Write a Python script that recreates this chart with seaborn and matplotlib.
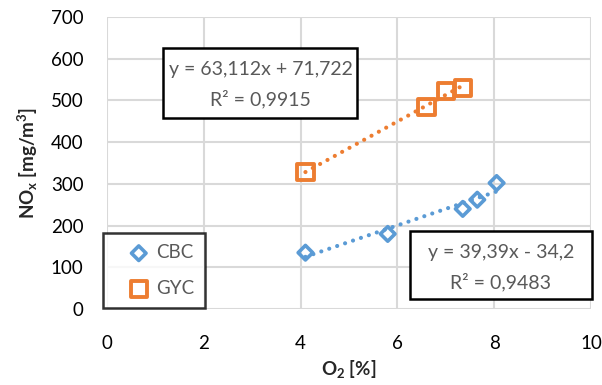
import numpy as np
import pandas as pd
import matplotlib
matplotlib.use("Agg")
import matplotlib.pyplot as plt
from matplotlib.patches import Rectangle
import seaborn as sns

# ---- data ----
cbc_o2 = [4.1, 5.8, 7.35, 7.65, 8.05]
cbc_nox = [135, 180, 240, 262, 302]
gyc_o2 = [4.1, 6.6, 7.0, 7.35]
gyc_nox = [328, 485, 522, 530]
series_names = ["CBC", "GYC"]
eq_cbc = "y = 39,39x - 34,2\nR² = 0,9483"
eq_gyc = "y = 63,112x + 71,722\nR² = 0,9915"
x_ticks = [0, 2, 4, 6, 8, 10]
y_ticks = [0, 100, 200, 300, 400, 500, 600, 700]

blue = "#5B9BD5"
orange = "#ED7D31"
txt_gray = "#595959"

sns.set_theme(style="white")
plt.rcParams["font.family"] = ["Lato", "DejaVu Sans"]
plt.rcParams["mathtext.fontset"] = "custom"
plt.rcParams["mathtext.rm"] = "Lato"
plt.rcParams["mathtext.bf"] = "Lato:bold"
plt.rcParams["mathtext.default"] = "bf"

df_cbc = pd.DataFrame({"o2": cbc_o2, "nox": cbc_nox})
df_gyc = pd.DataFrame({"o2": gyc_o2, "nox": gyc_nox})

fig = plt.figure(figsize=(6.02, 3.85), dpi=100)
ax = fig.add_axes([107 / 602, 1 - 309 / 385, 484 / 602, 292 / 385])

dot = (0, (0.01, 2.0))
sns.regplot(data=df_cbc, x="o2", y="nox", ax=ax, scatter=False, ci=None, truncate=True,
            line_kws=dict(color=blue, lw=3.0, linestyle=dot, dash_capstyle="round", zorder=2))
sns.regplot(data=df_gyc, x="o2", y="nox", ax=ax, scatter=False, ci=None, truncate=True,
            line_kws=dict(color=orange, lw=3.0, linestyle=dot, dash_capstyle="round", zorder=2))

sns.scatterplot(data=df_cbc, x="o2", y="nox", ax=ax, color=blue, marker="D", s=55,
                facecolors="none", edgecolors=blue, linewidths=2.6, label=series_names[0], zorder=3)
sns.scatterplot(data=df_gyc, x="o2", y="nox", ax=ax, color=orange, marker="s", s=135,
                facecolors="none", edgecolors=orange, linewidths=2.8, label=series_names[1], zorder=3)

ax.set_xlim(0, 10)
ax.set_ylim(0, 700)
ax.set_xticks(x_ticks)
ax.set_yticks(y_ticks)
ax.grid(True, color="#D9D9D9", lw=1.5)
ax.set_axisbelow(True)
for s in ax.spines.values():
    s.set_visible(False)
ax.tick_params(axis="both", length=0, labelsize=13.5, colors="black")
ax.tick_params(axis="y", pad=17)
ax.tick_params(axis="x", pad=19)

ax.set_xlabel("O$_2$ [%]", fontsize=13.5, fontweight="bold", labelpad=4)
ax.set_ylabel("NO$_x$ [mg/m$^3$]", fontsize=13.5, fontweight="bold", labelpad=8)

# equation boxes (trendline labels)
ax.add_patch(Rectangle((1.157, 458), 4.008, 168, transform=ax.transData, fc="white",
                       ec="black", lw=1.8, zorder=5, clip_on=False))
ax.text(3.18, 538, eq_gyc, ha="center", va="center", fontsize=14, color=txt_gray,
        linespacing=1.8, zorder=6)
ax.add_patch(Rectangle((6.26, 24), 3.76, 163, transform=ax.transData, fc="white",
                       ec="black", lw=1.8, zorder=5, clip_on=False))
ax.text(8.14, 98, eq_cbc, ha="center", va="center", fontsize=14, color=txt_gray,
        linespacing=1.75, zorder=6)

leg = ax.legend(loc="lower left", bbox_to_anchor=(-0.008, 0.003), borderaxespad=0,
                fontsize=13.5, frameon=True, fancybox=False, edgecolor="black",
                borderpad=0.6, labelspacing=1.0, handlelength=2.6, handletextpad=-0.4)
leg.get_frame().set_linewidth(1.8)
for t in leg.get_texts():
    t.set_color(txt_gray)
leg.set_zorder(7)

fig.savefig("out.png", dpi=100)
